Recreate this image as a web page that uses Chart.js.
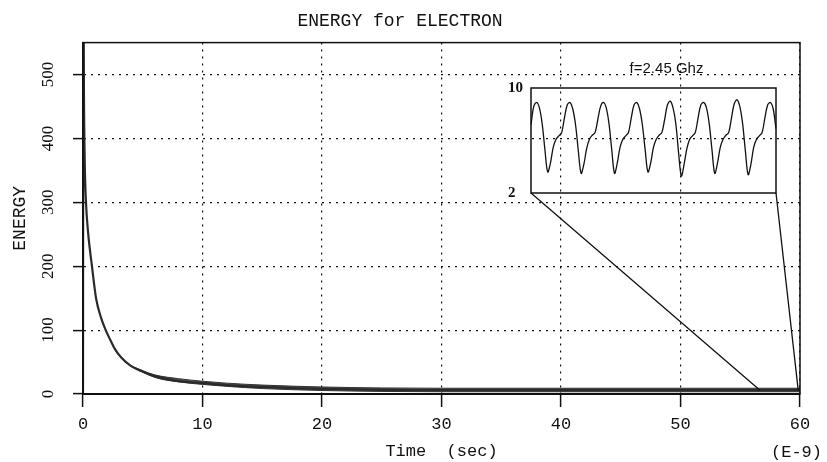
<!DOCTYPE html>
<html>
<head>
<meta charset="utf-8">
<script src="https://cdn.jsdelivr.net/npm/chart.js@4.4.1/dist/chart.umd.min.js"></script>
<style>
  html, body { margin: 0; padding: 0; background: #fff; }
  #wrap { position: relative; width: 827px; height: 462px; }
  #wrap canvas { position: absolute; left: 0; top: 0; }
  #inset { pointer-events: none; }
</style>
</head>
<body>
<div id="wrap">
  <canvas id="main" width="827" height="462"></canvas>
  <canvas id="inset" width="827" height="462"></canvas>
</div>
<script>
// main curve (time in ns, energy)
const timeNs = [0, 0.03, 0.08, 0.15, 0.25, 0.42, 0.75, 1.1, 1.5, 1.9, 2.3, 2.65, 3.2, 4.0, 5.0, 6.0, 7.7, 10, 12, 15, 18, 20, 25, 30, 35, 40, 45, 50, 55, 60];
const energy = [3, 680, 470, 360, 300, 254, 200, 149, 120, 100, 84, 71, 57, 44, 35, 28, 21, 17, 14, 11, 9, 8, 6.5, 6.2, 6, 6, 6, 6, 6, 6];

// spread of the fast oscillation around the tail
const bandTimes = [4, 6, 8, 10, 12, 15, 20, 25, 30, 40, 50, 60];
const bandHigh = [44, 30, 24, 20, 17, 14, 11, 9.5, 9, 9, 9, 9];
const bandLow = [44, 26, 19, 15, 12, 8.5, 5.5, 4, 3.5, 3.5, 3.5, 3.5];

const xTicks = [0, 10, 20, 30, 40, 50, 60];
const yTicks = [0, 100, 200, 300, 400, 500];

// zoomed window (f = 2.45 GHz), one row per period, starting just before the first peak
const insetValues = [
  7.2, 8.6,
  8.9, 8.5, 7.3, 5.3, 3.6, 4.3, 5.5, 6.1, 6.35, 6.6, 7.7, 8.7,
  8.9, 8.4, 7.2, 5.2, 3.5, 4.2, 5.4, 6.1, 6.4, 6.6, 7.6, 8.6,
  8.9, 8.5, 7.3, 5.3, 3.5, 4.3, 5.5, 6.1, 6.35, 6.6, 7.7, 8.7,
  8.9, 8.4, 7.2, 5.3, 3.6, 4.3, 5.5, 6.1, 6.4, 6.6, 7.6, 8.7,
  9.0, 8.5, 7.3, 5.1, 3.3, 4.2, 5.4, 6.1, 6.35, 6.6, 7.7, 8.7,
  8.9, 8.5, 7.3, 5.3, 3.5, 4.3, 5.5, 6.1, 6.4, 6.6, 7.7, 8.8,
  9.1, 8.6, 7.3, 5.2, 3.4, 4.2, 5.5, 6.1, 6.35, 6.6, 7.7, 8.7,
  8.9, 8.4, 6.9
];
const insetYTicks = [2, 10];
const zoomWindow = [56.65, 59.85];
const zoomLevel = 6;

const mono = "'Liberation Mono', monospace";
const serif = "'Liberation Serif', serif";
const ink = '#111';

const frame = {
  id: 'frame',
  afterDraw(chart) {
    const { ctx, chartArea: a } = chart;
    ctx.save();
    ctx.strokeStyle = ink;
    ctx.lineWidth = 1.5;
    ctx.strokeRect(a.left, a.top, a.right - a.left, a.bottom - a.top);
    ctx.font = `17px ${mono}`;
    ctx.fillStyle = ink;
    ctx.textAlign = 'right';
    ctx.textBaseline = 'middle';
    ctx.fillText('(E-9)', a.right + 22, 452);
    ctx.restore();
  }
};

function pts(xs, ys) { return xs.map((x, i) => ({ x, y: ys[i] })); }

const gridOpts = { color: ink, lineWidth: 1.2, tickColor: ink, tickWidth: 1.5, tickBorderDash: [] };
const borderOpts = { display: true, color: ink, width: 2, dash: [2, 5] };

const mainChart = new Chart(document.getElementById('main'), {
  type: 'line',
  data: {
    datasets: [
      { data: pts(timeNs, energy), borderColor: '#2a2a2a', borderWidth: 2.2, pointRadius: 0, cubicInterpolationMode: 'monotone', fill: false },
      { data: pts(bandTimes, bandHigh), borderColor: '#333', borderWidth: 1, pointRadius: 0, cubicInterpolationMode: 'monotone', fill: false },
      { data: pts(bandTimes, bandLow), borderColor: '#333', borderWidth: 1, pointRadius: 0, cubicInterpolationMode: 'monotone', fill: '-1', backgroundColor: '#555' }
    ]
  },
  options: {
    responsive: false,
    animation: false,
    devicePixelRatio: 1,
    layout: { padding: { left: 0, right: 27, top: 0, bottom: 0 } },
    plugins: {
      legend: { display: false },
      tooltip: { enabled: false },
      title: { display: true, text: 'ENERGY for ELECTRON', color: ink, font: { family: mono, size: 18, weight: 'normal' }, padding: { top: 10, bottom: 11 } }
    },
    scales: {
      x: {
        type: 'linear', min: 0, max: 60,
        afterBuildTicks: s => { s.ticks = xTicks.map(v => ({ value: v })); },
        afterFit: s => { s.height = 68; },
        grid: { ...gridOpts, tickLength: 13 },
        border: borderOpts,
        ticks: { color: ink, font: { family: mono, size: 17 }, padding: 7, maxRotation: 0 },
        title: { display: true, text: 'Time  (sec)', color: ink, font: { family: mono, size: 17 }, padding: { top: 0, bottom: 0 } }
      },
      y: {
        type: 'linear', min: 0, max: 550,
        afterBuildTicks: s => { s.ticks = yTicks.map(v => ({ value: v })); },
        afterFit: s => { s.width = 83; },
        grid: { ...gridOpts, tickLength: 10 },
        border: borderOpts,
        ticks: { color: ink, font: { family: serif, size: 17 }, minRotation: 90, maxRotation: 90, crossAlign: 'center', padding: 12 },
        title: { display: true, text: 'ENERGY', color: ink, font: { family: mono, size: 18 }, padding: { top: 9, bottom: 0 } }
      }
    }
  },
  plugins: [frame]
});

const insetFrame = {
  id: 'insetFrame',
  afterDraw(chart) {
    const { ctx, chartArea: a } = chart;
    const sx = mainChart.scales.x, sy = mainChart.scales.y;
    ctx.save();
    ctx.strokeStyle = ink;
    ctx.lineWidth = 1.5;
    ctx.strokeRect(a.left, a.top, a.right - a.left, a.bottom - a.top);
    ctx.lineWidth = 1.3;
    ctx.beginPath();
    ctx.moveTo(a.left, a.bottom);
    ctx.lineTo(sx.getPixelForValue(zoomWindow[0]), sy.getPixelForValue(zoomLevel));
    ctx.moveTo(a.right, a.bottom);
    ctx.lineTo(sx.getPixelForValue(zoomWindow[1]), sy.getPixelForValue(zoomLevel));
    ctx.stroke();
    ctx.font = "15px 'Liberation Sans', sans-serif";
    ctx.fillStyle = ink;
    ctx.textAlign = 'center';
    ctx.textBaseline = 'middle';
    ctx.fillText('f=2.45 Ghz', (a.left + a.right) / 2 + 13, a.top - 19);
    ctx.restore();
  }
};

new Chart(document.getElementById('inset'), {
  type: 'line',
  data: {
    labels: insetValues.map((_, i) => i),
    datasets: [{ data: insetValues, borderColor: ink, borderWidth: 1.3, pointRadius: 0, tension: 0.35, fill: false }]
  },
  options: {
    responsive: false,
    animation: false,
    devicePixelRatio: 1,
    layout: { padding: { left: 508, right: 51, top: 88, bottom: 269 } },
    plugins: { legend: { display: false }, tooltip: { enabled: false } },
    scales: {
      x: { display: false },
      y: {
        min: 2, max: 10,
        afterBuildTicks: s => { s.ticks = insetYTicks.map(v => ({ value: v })); },
        afterFit: s => { s.width = 23; },
        grid: { display: false },
        border: { display: false },
        ticks: { color: ink, font: { family: serif, size: 15, weight: 'bold' }, crossAlign: 'far', padding: 0 }
      }
    }
  },
  plugins: [insetFrame]
});
</script>
</body>
</html>
